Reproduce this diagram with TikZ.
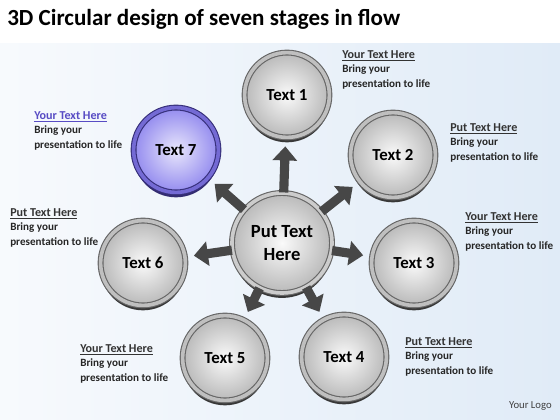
\documentclass[tikz,border=0pt]{standalone}
\usepackage{fontspec}
\setmainfont{Carlito}
\usepackage{xcolor}
\usetikzlibrary{arrows.meta}
\definecolor{bgblue}{RGB}{224,235,247}
\definecolor{ringblue}{RGB}{92,80,205}
\definecolor{coreblue}{RGB}{128,118,236}
\definecolor{headblue}{RGB}{88,76,196}
\newcommand{\heading}[2][black!80]{{\fontsize{8.6}{10.4}\selectfont\textcolor{#1}{\underline{#2}}}}

\begin{document}
\begin{tikzpicture}[x=0.025cm,y=-0.025cm,
    coin/.style={circle,inner sep=0pt,line width=0.8pt,double distance=2.6pt,
      font=\bfseries\fontsize{12}{15}\selectfont,align=center},
    stage/.style={coin,minimum size=2.12cm,draw=black!60,double=gray!50,
      inner color=gray!4,outer color=gray!55,
      preaction={fill=black!78,transform canvas={yshift=-3.5pt}}},
    stagehi/.style={coin,minimum size=2.12cm,draw=ringblue!60!black,double=ringblue!85,
      inner color=coreblue!18,outer color=coreblue!85,
      preaction={fill=ringblue!55!black,transform canvas={yshift=-3.5pt}}},
    hub/.style={stage,minimum size=2.5cm,double=gray!40,
      font=\bfseries\fontsize{13.2}{16}\selectfont,
      preaction={fill=black!55,transform canvas={yshift=-1.5pt}}},
    note/.style={anchor=north west,align=left,inner sep=0pt,text=black!85,
      font=\bfseries\fontsize{7.9}{10.4}\selectfont},
    flow/.style={draw=black!72,line width=6.5pt,-{Triangle[width=17pt,length=10pt]},
      shorten >=6pt}]
  % Background
  \fill[white] (0,0) rectangle (560,420);
  \shade[left color=white!75!bgblue,right color=bgblue] (0,44) rectangle (560,420);
  % Title
  \node[anchor=base west,inner sep=0pt,font=\bfseries\fontsize{16.4}{20}\selectfont] (title)
    at (7,26) {3D Circular design of seven stages in flow};
  % Centre and the seven stages
  \node[hub] (C) at (282,243) {Put Text\\Here};
  \node[stage] (T1) at (287,95) {Text 1};
  \node[stage] (T2) at (393,155) {Text 2};
  \node[stage] (T3) at (414,263) {Text 3};
  \node[stage] (T4) at (344,357) {Text 4};
  \node[stage] (T5) at (225,358) {Text 5};
  \node[stage] (T6) at (143,263) {Text 6};
  \node[stagehi] (T7) at (176,150) {Text 7};
  % Arrows from the centre
  \draw[flow] (C) -- (T1);
  \draw[flow] (C) -- (T2);
  \draw[flow] (C) -- (T3);
  \draw[flow] (C) -- (T4);
  \draw[flow] (C) -- (T5);
  \draw[flow] (C) -- (T6);
  \draw[flow] (C) -- (T7);
  % Notes beside the stages
  \node[note] (N1) at (342,50) {\heading{Your Text Here}\\Bring your\\presentation to life};
  \node[note] (N2) at (450,123) {\heading{Put Text Here}\\Bring your\\presentation to life};
  \node[note] (N3) at (465,212) {\heading{Your Text Here}\\Bring your\\presentation to life};
  \node[note] (N4) at (405,337) {\heading{Put Text Here}\\Bring your\\presentation to life};
  \node[note] (N5) at (80,344) {\heading{Your Text Here}\\Bring your\\presentation to life};
  \node[note] (N6) at (10,208) {\heading{Put Text Here}\\Bring your\\presentation to life};
  \node[note] (N7) at (34,111) {\heading[headblue]{Your Text Here}\\Bring your\\presentation to life};
  % Logo
  \node[anchor=east,inner sep=0pt,text=black!75,font=\fontsize{7.6}{9}\selectfont] (logo)
    at (552,406) {Your Logo};
\end{tikzpicture}
\end{document}
